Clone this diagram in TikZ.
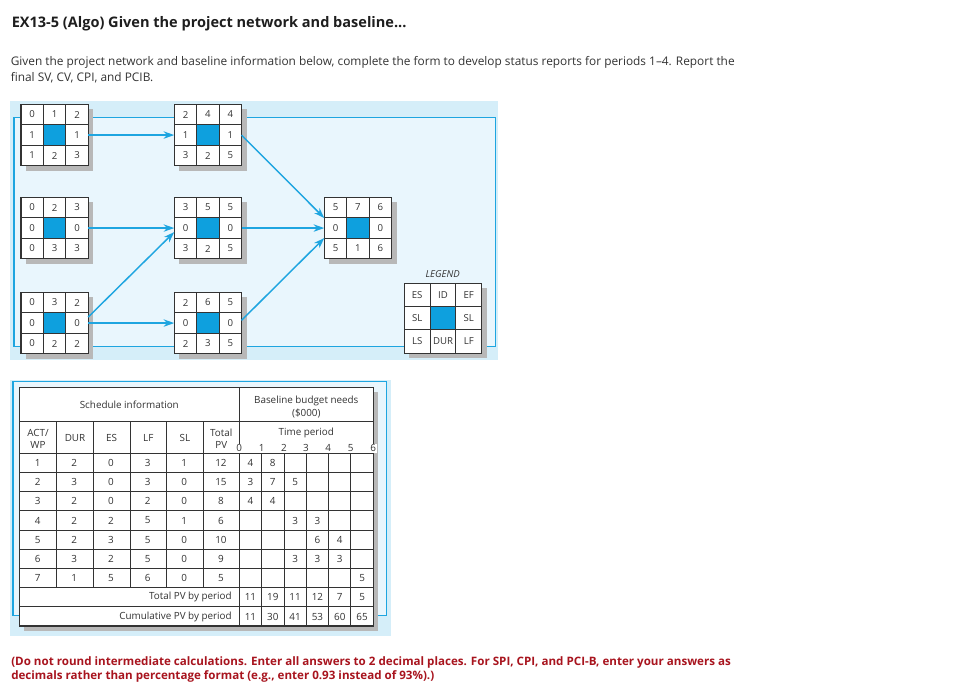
\documentclass[tikz,border=0pt]{standalone}
\usepackage{fontspec}
\setmainfont{Open Sans}
\usetikzlibrary{arrows.meta,calc}
\definecolor{panel}{HTML}{D5EEF9}
\definecolor{panelin}{HTML}{E9F6FD}
\definecolor{sky}{HTML}{1EA5E0}
\definecolor{cellblue}{HTML}{0EA0DE}
\definecolor{ink}{HTML}{333333}
\definecolor{ttl}{HTML}{1E1E1E}
\definecolor{shadowg}{HTML}{B8B8B8}
\definecolor{redtxt}{HTML}{A8141E}
\def\cw{22.4}
\def\ch{20.5}
\newcommand{\netbox}[7]{%
 \fill[shadowg] (#2+5,#3+5) rectangle (#2+3*\cw+5,#3+3*\ch+5);
 \node[boxnode,anchor=north west,minimum width=3*\cw*0.75pt,minimum height=3*\ch*0.75pt] (#1) at (#2,#3) {};
 \fill[cellblue] (#2+\cw,#3+\ch) rectangle (#2+2*\cw,#3+2*\ch);
 \draw[gridl] (#2+\cw,#3) -- (#2+\cw,#3+3*\ch) (#2+2*\cw,#3) -- (#2+2*\cw,#3+3*\ch)
   (#2,#3+\ch) -- (#2+3*\cw,#3+\ch) (#2,#3+2*\ch) -- (#2+3*\cw,#3+2*\ch);
 \foreach \v [count=\i from 0] in {#4} \node[celltext] at (#2+\cw/2+\cw*\i,#3+\ch/2) {\v};
 \node[celltext] at (#2+\cw/2,#3+1.5*\ch) {#5};
 \node[celltext] at (#2+2.5*\cw,#3+1.5*\ch) {#6};
 \foreach \v [count=\i from 0] in {#7} \node[celltext] at (#2+\cw/2+\cw*\i,#3+2.5*\ch) {\v};
}
\begin{document}
\begin{tikzpicture}[x=0.75pt,y=-0.75pt,
 gridl/.style={draw=ink,line width=0.75pt},
 boxnode/.style={draw=ink,line width=0.9pt,fill=white,inner sep=0pt,outer sep=0pt},
 celltext/.style={font=\fontsize{7.2pt}{9pt}\selectfont,text=ink,inner sep=0pt},
 tabtext/.style={font=\fontsize{7.4pt}{9pt}\selectfont,text=ink,inner sep=0pt},
 thickarr/.style={draw=sky,line width=1.8pt,-{Stealth[length=8pt,width=5.5pt]}},
 thinarr/.style={draw=sky,line width=1.1pt,-{Stealth[length=8pt,width=5.5pt]}},
 tline/.style={draw=ink,line width=0.75pt}]
\useasboundingbox (0,0) rectangle (971,693);
\fill[white] (0,0) rectangle (971,693);
% ---- texts
\node[anchor=base west,inner sep=0pt,text=ttl,font=\bfseries\fontsize{10.9pt}{13pt}\selectfont] (title) at (11.5,27) {EX13-5 (Algo) Given the project network and baseline...};
\node[anchor=base west,inner sep=0pt,text=ink,font=\fontsize{8.9pt}{11pt}\selectfont] (intro1) at (10.5,65.7) {Given the project network and baseline information below, complete the form to develop status reports for periods 1–4. Report the};
\node[anchor=base west,inner sep=0pt,text=ink,font=\fontsize{8.9pt}{11pt}\selectfont] (intro2) at (10.5,81.2) {final SV, CV, CPI, and PCIB.};
\node[anchor=base west,inner sep=0pt,text=redtxt,font=\bfseries\fontsize{8.7pt}{11pt}\selectfont] (note1) at (11,665) {(Do not round intermediate calculations. Enter all answers to 2 decimal places. For SPI, CPI, and PCI-B, enter your answers as};
\node[anchor=base west,inner sep=0pt,text=redtxt,font=\bfseries\fontsize{8.7pt}{11pt}\selectfont] (note2) at (11,679.3) {decimals rather than percentage format (e.g., enter 0.93 instead of 93\%).)};
% ---- network panel
\fill[panel] (10,101) rectangle (498,360);
\draw[sky,line width=1.1pt,fill=panelin] (14,117.5) rectangle (495.5,346.5);
\netbox{n1}{21}{104.3}{0,1,2}{1}{1}{1,2,3}
\netbox{n2}{174.3}{104.3}{2,4,4}{1}{1}{3,2,5}
\netbox{n3}{21}{197.3}{0,2,3}{0}{0}{0,3,3}
\netbox{n4}{174.3}{197.3}{3,5,5}{0}{0}{3,2,5}
\netbox{n5}{21}{292.3}{0,3,2}{0}{0}{0,2,2}
\netbox{n6}{174.3}{292.3}{2,6,5}{0}{0}{2,3,5}
\netbox{n7}{324.3}{197.3}{5,7,6}{0}{0}{5,1,6}
\def\cw{25.8}\def\ch{23.3}
\netbox{leg}{404.3}{283.3}{ES,ID,EF}{SL}{SL}{LS,DUR,LF}
\node[inner sep=0pt,text=ink,font=\itshape\fontsize{7.2pt}{9pt}\selectfont] (legtitle) at (442.7,274.3) {LEGEND};
\draw[thickarr] (n1.east) -- (n2.west);
\draw[thinarr] (n3.east) -- (n4.west);
\draw[thinarr] ([yshift=4.5pt]n5.east) -- ([yshift=-3pt]n4.west);
\draw[thickarr] (n5.east) -- (n6.west);
\draw[thinarr] (n2.east) -- ([yshift=7.5pt]n7.west);
\draw[thickarr] (n4.east) -- (n7.west);
\draw[thinarr] ([yshift=2pt]n6.east) -- ([yshift=-7.5pt]n7.west);
% ---- table
\fill[panel] (10,380) rectangle (391,636);
\draw[sky,line width=1.1pt,fill=panelin] (13,381.7) rectangle (386.7,615.5);
\fill[shadowg] (24.3,392.3) rectangle (378.3,631.1);
\fill[white] (19.3,387.3) rectangle (373.3,626.1);
\draw[tline] (19.3,421.7) -- (373.3,421.7);
\foreach \yy in {453.3,472.5,491.7,510.9,530.1,549.3,568.5,587.7,606.9}
  \draw[tline] (19.3,\yy) -- (373.3,\yy);
\draw[tline] (239.3,387.3) -- (239.3,626.1);
\foreach \xx in {56.7,93.3,130,166.7,203.3}
  \draw[tline] (\xx,421.7) -- (\xx,587.7);
\foreach \xx in {261.7,284,306,328.3,350.7}
  \draw[tline] (\xx,453.3) -- (\xx,626.1);
\draw[ink,line width=1.1pt] (19.3,387.3) rectangle (373.3,626.1);
% header
\node[tabtext] (hsched) at (129.3,405) {Schedule information};
\node[tabtext] (hbase1) at (306.3,400.7) {Baseline budget needs};
\node[tabtext] (hbase2) at (306.3,413.3) {(\$000)};
\node[tabtext] (hact1) at (38,432.7) {ACT/};
\node[tabtext] (hact2) at (38,445) {WP};
\node[tabtext] (hdur) at (75,438.3) {DUR};
\node[tabtext] (hes) at (111.65,438.3) {ES};
\node[tabtext] (hlf) at (148.35,438.3) {LF};
\node[tabtext] (hsl) at (185,438.3) {SL};
\node[tabtext] (htot1) at (221.3,432.7) {Total};
\node[tabtext] (htot2) at (221.3,445) {PV};
\node[tabtext] (htime) at (306.3,432.7) {Time period};
\foreach \p/\xx in {0/239.3,1/261.7,2/284,3/306,4/328.3,5/350.7,6/373.3}
  \node[tabtext,fill=white,inner sep=0.6pt] (per\p) at (\xx,448.3) {\p};
% data rows
\foreach \row [count=\r] in {
  {1/1,2/2,3/0,4/3,5/1,6/12,7/4,8/8},
  {1/2,2/3,3/0,4/3,5/0,6/15,7/3,8/7,9/5},
  {1/3,2/2,3/0,4/2,5/0,6/8,7/4,8/4},
  {1/4,2/2,3/2,4/5,5/1,6/6,9/3,10/3},
  {1/5,2/2,3/3,4/5,5/0,6/10,10/6,11/4},
  {1/6,2/3,3/2,4/5,5/0,6/9,9/3,10/3,11/3},
  {1/7,2/1,3/5,4/6,5/0,6/5,12/5},
  {7/11,8/19,9/11,10/12,11/7,12/5},
  {7/11,8/30,9/41,10/53,11/60,12/65}} {
  \foreach \c/\v in \row {
    \pgfmathsetmacro\cx{\c<7 ? 19.3+36.67*(\c-0.5) : 239.3+22.33*(\c-6.5)}
    \node[tabtext] at (\cx,453.3+19.2*\r-9.6) {\v};
  }
}
\node[tabtext,anchor=east] (totpv) at (232,597.3) {Total PV by period};
\node[tabtext,anchor=east] (cumpv) at (232,616.5) {Cumulative PV by period};
\end{tikzpicture}
\end{document}
